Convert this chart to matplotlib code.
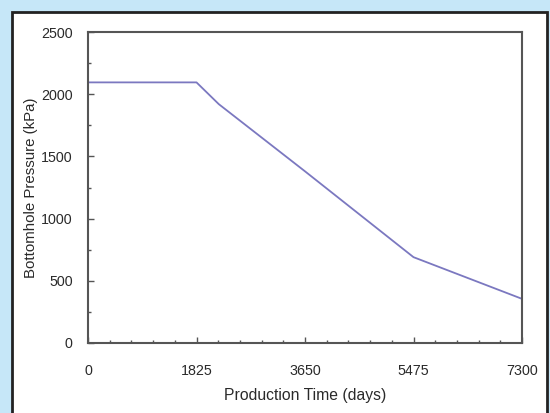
import matplotlib
matplotlib.use("Agg")
import matplotlib.pyplot as plt
from matplotlib.patches import Rectangle
from matplotlib.ticker import MultipleLocator, FixedLocator

plt.rcParams['font.family'] = ['Liberation Sans', 'DejaVu Sans']

time_days = [0, 1825, 2200, 3650, 5475, 7300]
pressure_kpa = [2095, 2095, 1920, 1380, 690, 355]
x_ticks = [0, 1825, 3650, 5475, 7300]
y_ticks = [0, 500, 1000, 1500, 2000, 2500]

W, H = 550, 413
fig = plt.figure(figsize=(5.5, 4.13), dpi=100)
fig.patch.set_facecolor('#c6e7f8')

panel = Rectangle((12 / W, -0.05), (547 - 12) / W, 1.05 - 12 / H,
                  transform=fig.transFigure, facecolor='white',
                  edgecolor='#222222', linewidth=2, zorder=-10)
fig.patches.append(panel)

ax = fig.add_axes([88 / W, 1 - 343 / H, (522 - 88) / W, (343 - 32) / H])
ax.set_zorder(5)
ax.set_facecolor('white')
ax.plot(time_days, pressure_kpa, color='#7b78c0', linewidth=1.3)

ax.set_xlim(0, 7300)
ax.set_ylim(0, 2500)
ax.xaxis.set_major_locator(FixedLocator(x_ticks))
ax.xaxis.set_minor_locator(MultipleLocator(365))
ax.yaxis.set_major_locator(FixedLocator(y_ticks))
ax.yaxis.set_minor_locator(MultipleLocator(250))
ax.set_xticklabels([str(v) for v in x_ticks])
ax.set_yticklabels([str(v) for v in y_ticks])

for s in ax.spines.values():
    s.set_color('#555555')
    s.set_linewidth(1.5)

ax.tick_params(which='both', direction='in', colors='#555555', labelcolor='#2a2a2a',
               labelsize=10.3)
ax.tick_params(which='major', length=4, width=1)
ax.tick_params(which='minor', length=2.5, width=1)
ax.tick_params(axis='x', which='major', pad=15)
ax.tick_params(axis='y', which='major', pad=11)

ax.set_xlabel('Production Time (days)', fontsize=11.3, color='#2a2a2a', labelpad=7)
ax.set_ylabel('Bottomhole Pressure (kPa)', fontsize=10.8, color='#2a2a2a', labelpad=2)

fig.savefig('out.png', dpi=100, facecolor=fig.get_facecolor())
